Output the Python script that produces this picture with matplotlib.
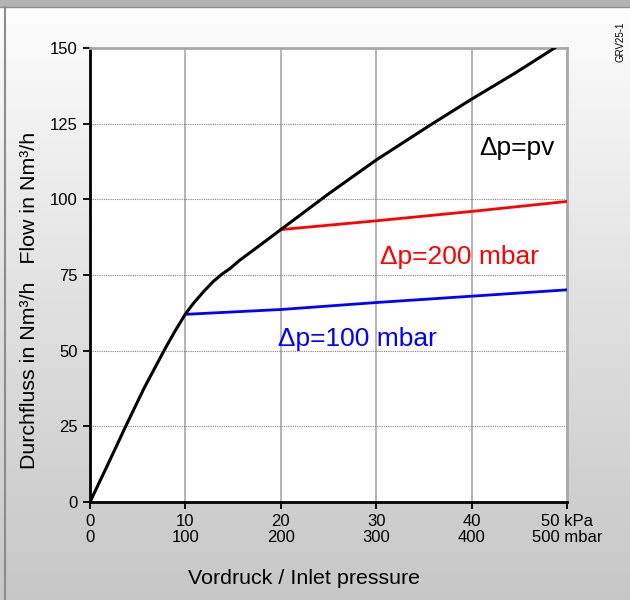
import numpy as np
import matplotlib
matplotlib.use("Agg")
from matplotlib import pyplot as plt
from matplotlib.patches import Rectangle

plt.rcParams['font.family'] = ['Liberation Sans', 'DejaVu Sans']

# values (x in kPa, y in Nm3/h)
pv_x = [0, 1.9, 3.74, 5.7, 7.86, 8.9, 10.0, 10.83, 11.9, 12.9, 13.8, 14.7, 15.7, 17.8, 20.0, 25.0, 30.0, 35.8, 40.0, 44.5, 48.7]
pv_y = [0, 12.6, 25.0, 37.8, 50.6, 56.4, 62.1, 65.6, 69.5, 72.8, 75.2, 77.2, 79.9, 84.8, 90.0, 101.8, 113.0, 124.8, 133.1, 141.6, 150.0]
dp200_x = [20, 30, 40, 50]
dp200_y = [90.0, 92.9, 96.0, 99.3]
dp100_x = [10, 20, 30, 40, 50]
dp100_y = [62.0, 63.6, 65.9, 68.0, 70.1]

xticks = [0, 10, 20, 30, 40, 50]
xticklabels = ["0\n0", "10\n100", "20\n200", "30\n300", "40\n400", "50 kPa\n500 mbar"]
yticks = [0, 25, 50, 75, 100, 125, 150]

fig = plt.figure(figsize=(6.3, 6.0), dpi=100)

# background gradient + frame
bg = fig.add_axes([0, 0, 1, 1], zorder=-10)
grad = np.linspace(0, 1, 256).reshape(-1, 1)
cols = np.clip(1.0 - 0.22 * (grad ** 0.9), 0, 1)
img = np.dstack([cols, cols, cols])
bg.imshow(img, aspect='auto', extent=[0, 1, 0, 1], origin='upper')
bg.set_xlim(0, 1)
bg.set_ylim(0, 1)
bg.axis('off')
bg.add_patch(Rectangle((0, 1 - 7 / 600), 1, 7 / 600, color='#b4b4b4', lw=0))
bg.plot([0, 1], [1 - 7 / 600, 1 - 7 / 600], color='#8c8c8c', lw=1)
bg.plot([5 / 630, 5 / 630], [0, 1 - 7 / 600], color='#8c8c8c', lw=1.5)

ax = fig.add_axes([90 / 630, 1 - 502 / 600, 477 / 630, 454 / 600])
ax.set_facecolor('white')

ax.plot(pv_x, pv_y, color='black', lw=2.2, solid_joinstyle='round', zorder=5)
ax.plot(dp200_x, dp200_y, color='#ff0000', lw=2.0, zorder=4)
ax.plot(dp100_x, dp100_y, color='#0000ff', lw=2.0, zorder=4)

ax.set_xlim(0, 50)
ax.set_ylim(0, 150)
ax.set_xticks(xticks)
ax.set_xticklabels(xticklabels, fontsize=12, linespacing=1.0)
ax.set_yticks(yticks)
ax.set_yticklabels([str(v) for v in yticks], fontsize=12)
ax.tick_params(axis='both', direction='out', length=5, width=1.3, color='black', pad=4)

for v in xticks[1:-1]:
    ax.axvline(v, color='#a8a8a8', lw=1.2, zorder=1)
for v in yticks[1:-1]:
    ax.axhline(v, color='#808080', lw=0.8, ls=(0, (1, 1)), zorder=1)

for s in ['left', 'bottom']:
    ax.spines[s].set_color('black')
    ax.spines[s].set_linewidth(2)
for s in ['top', 'right']:
    ax.spines[s].set_color('#a8a8a8')
    ax.spines[s].set_linewidth(2)

ax.text(44.7, 116.8, "\u0394p=pv", fontsize=19, color='black', ha='center', va='center')
ax.text(38.7, 80.8, "\u0394p=200 mbar", fontsize=19, color='#ff0000', ha='center', va='center')
ax.text(28.0, 53.8, "\u0394p=100 mbar", fontsize=19, color='#0000ff', ha='center', va='center')

fig.text(304 / 630, 1 - 578 / 600, "Vordruck / Inlet pressure", fontsize=15.4, ha='center', va='center')
fig.text(30 / 630, 1 - 300 / 600, "Durchfluss in Nm\u00b3/h   Flow in Nm\u00b3/h", fontsize=15.4,
         rotation=90, ha='center', va='center')
fig.text(620 / 630, 1 - 42 / 600, "GRV25-1", fontsize=7, rotation=90, ha='center', va='center')

fig.savefig("out.png", dpi=100)
